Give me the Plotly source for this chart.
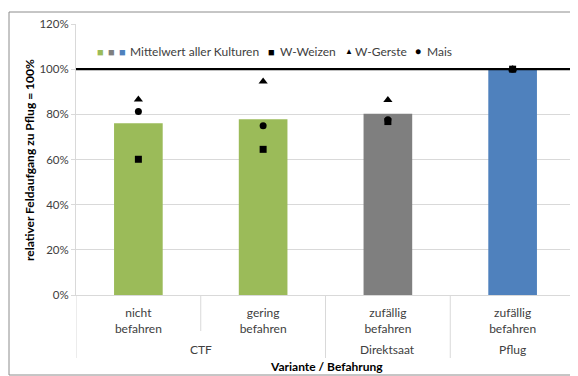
import plotly.graph_objects as go

# ---- data ----
groups = ["CTF", "Direktsaat", "Pflug"]
group_spans = [2, 1, 1]
treatments = ["nicht<br>befahren", "gering<br>befahren", "zufällig<br>befahren", "zufällig<br>befahren"]
mean_all = [76.1, 77.8, 80.3, 100.0]
w_weizen = [60.1, 64.5, 76.8, 100.0]
w_gerste = [86.6, 94.5, 86.4, 100.0]
mais = [81.2, 75.0, 77.6, 100.0]
reference_level = 100
y_ticks = [0, 20, 40, 60, 80, 100, 120]
y_ticklabels = ["0%", "20%", "40%", "60%", "80%", "100%", "120%"]

bar_colors = ["#9BBB59", "#9BBB59", "#7F7F7F", "#4F81BD"]
FONT = "Lato"
OFF = 8  # page body margin
W, H = 578 - OFF, 376 - OFF
ML, MR, MT, MB = 76 - OFF, 3, 24 - OFF, 81
PW, PH = W - ML - MR, H - MT - MB
GRID = "#D9D9D9"
TXT = "#404040"


def px(x):  # page pixel -> paper
    return (x - OFF - ML) / PW


def py(y):
    return (H - MB - (y - OFF)) / PH


pos = list(range(len(treatments)))
fig = go.Figure()
fig.add_trace(go.Bar(x=pos, y=mean_all, marker=dict(color=bar_colors, line=dict(width=0)),
                     name="Mittelwert aller Kulturen", showlegend=False))
fig.add_trace(go.Scatter(x=pos, y=mais, mode="markers", name="Mais",
                         marker=dict(symbol="circle", size=7, color="black"), showlegend=False))
fig.add_trace(go.Scatter(x=pos, y=w_gerste, mode="markers", name="W-Gerste",
                         marker=dict(symbol="triangle-up", size=8, color="black"), showlegend=False))
fig.add_trace(go.Scatter(x=pos, y=w_weizen, mode="markers", name="W-Weizen",
                         marker=dict(symbol="square", size=7, color="black"), showlegend=False))

fig.add_hline(y=reference_level, line=dict(color="black", width=2.2), layer="above")

# legend built from annotations
leg_y = py(51)
items = [
    (95, "■", "#9BBB59", 11),
    (106, "■", "#7F7F7F", 11),
    (117, "■", "#4F81BD", 11),
    (128, "Mittelwert aller Kulturen", TXT, 12),
    (266, "■", "black", 11),
    (278, "W-Weizen", TXT, 12),
    (343, "▲", "black", 8),
    (353, "W-Gerste", TXT, 12),
    (413, "●", "black", 10),
    (425, "Mais", TXT, 12),
]
for xp, txt, col, sz in items:
    fig.add_annotation(x=px(xp), y=leg_y, xref="paper", yref="paper", text=txt,
                       showarrow=False, xanchor="left", yanchor="middle",
                       font=dict(family=FONT, size=sz, color=col))

# group labels (second level of the category axis) and dividers
start = -0.5
fig.add_shape(type="line", xref="x", yref="paper", x0=start, x1=start,
              y0=py(295), y1=py(358), line=dict(color=GRID, width=1))
for g, span in zip(groups, group_spans):
    centre = start + span / 2
    fig.add_annotation(x=centre, y=py(349), xref="x", yref="paper", text=g,
                       showarrow=False, xanchor="center", yanchor="middle",
                       font=dict(family=FONT, size=12, color=TXT))
    for k in range(1, span):
        fig.add_shape(type="line", xref="x", yref="paper", x0=start + k, x1=start + k,
                      y0=py(295), y1=py(331), line=dict(color=GRID, width=1))
    start += span
    if start < len(treatments) - 0.5:
        fig.add_shape(type="line", xref="x", yref="paper", x0=start, x1=start,
                      y0=py(295), y1=py(358), line=dict(color=GRID, width=1))

# axis titles
fig.add_annotation(x=px(326), y=py(366), xref="paper", yref="paper",
                   text="<b>Variante / Befahrung</b>", showarrow=False,
                   xanchor="center", yanchor="middle",
                   font=dict(family=FONT, size=12, color="black"))
fig.add_annotation(x=px(29), y=py(160), xref="paper", yref="paper",
                   text="<b>relativer Feldaufgang zu Pflug = 100%</b>", showarrow=False,
                   xanchor="center", yanchor="middle",
                   textangle=-90, font=dict(family=FONT, size=12, color="black"))

# outer border
fig.add_shape(type="rect", xref="paper", yref="paper",
              x0=px(9), x1=px(577), y0=py(375), y1=py(12),
              line=dict(color="#8C8C8C", width=1))

fig.update_layout(
    width=W, height=H,
    margin=dict(l=ML, r=MR, t=MT, b=MB, autoexpand=False),
    paper_bgcolor="white", plot_bgcolor="white",
    bargap=0.61,
    showlegend=False,
    font=dict(family=FONT, size=11, color=TXT),
)
fig.update_yaxes(range=[0, 120], tickvals=y_ticks, ticktext=y_ticklabels,
                 showgrid=True, gridcolor=GRID, gridwidth=1, automargin=False,
                 showline=True, linecolor=GRID, ticks="outside", ticklen=4,
                 tickcolor=GRID, zeroline=False,
                 tickfont=dict(family=FONT, size=11.5, color=TXT))
fig.update_xaxes(range=[-0.5, len(treatments) - 0.5], tickvals=pos, ticktext=treatments,
                 showline=True, linecolor=GRID, automargin=False, showgrid=False,
                 ticks="outside", ticklen=7, tickcolor="rgba(0,0,0,0)",
                 tickfont=dict(family=FONT, size=12, color=TXT))

fig.write_html("out.html")
